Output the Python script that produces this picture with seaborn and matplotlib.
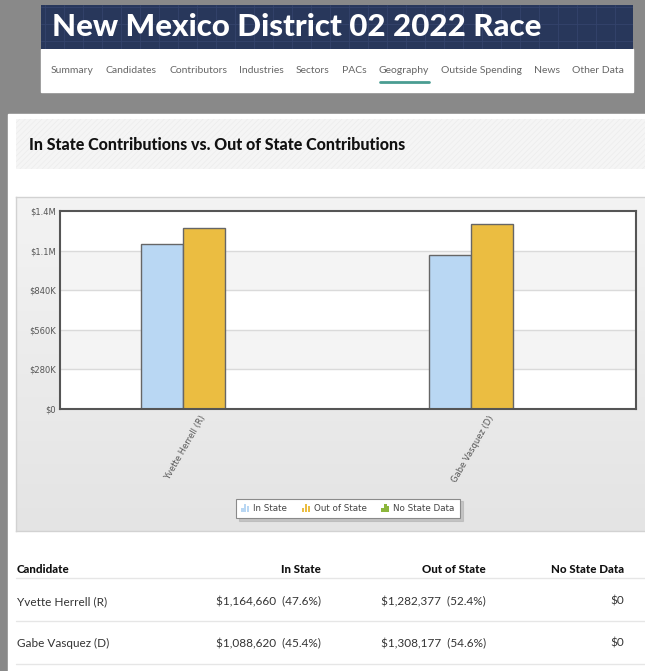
"""Screenshot recreation: NM-02 2022 race, in-state vs out-of-state contributions."""

import matplotlib

matplotlib.use("Agg")

import matplotlib.pyplot as plt
import numpy as np
import pandas as pd
import seaborn as sns
from matplotlib.colors import LinearSegmentedColormap
from matplotlib.legend_handler import HandlerBase
from matplotlib.lines import Line2D
from matplotlib.patches import Patch, Rectangle

# Data
page_title = "New Mexico District 02 2022 Race"
chart_title = "In State Contributions vs. Out of State Contributions"
nav_items = ["Summary", "Candidates", "Contributors", "Industries", "Sectors",
             "PACs", "Geography", "Outside Spending", "News", "Other Data"]
active_nav = "Geography"

candidates = ["Yvette Herrell (R)", "Gabe Vasquez (D)"]
sources = ["In State", "Out of State", "No State Data"]
in_state = [1164660, 1088620]
out_of_state = [1282377, 1308177]
no_state = [0, 0]

y_ticks = [0, 280000, 560000, 840000, 1120000, 1400000]
y_tick_labels = ["$0", "$280K", "$560K", "$840K", "$1.1M", "$1.4M"]
table_columns = ["Candidate", "In State", "Out of State", "No State Data"]

palette = {"In State": "#b9d7f3", "Out of State": "#ebbd41", "No State Data": "#8cb63c"}

sns.set_theme(style="white")
plt.rcParams.update({
    "font.family": ["DejaVu Sans"],
    "hatch.linewidth": 0.5,
})

W, H = 645, 671
fig = plt.figure(figsize=(W / 100, H / 100), dpi=100, facecolor="#898989")


def fx(x):
    return x / W


def fy(y):
    return 1 - y / H


def box(x0, y0, x1, y1):
    return [fx(x0), fy(y1), (x1 - x0) / W, (y1 - y0) / H]


def rect(x0, y0, x1, y1, **kw):
    r = Rectangle((fx(x0), fy(y1)), (x1 - x0) / W, (y1 - y0) / H,
                  transform=fig.transFigure, zorder=-5, **kw)
    fig.add_artist(r)
    return r


def fit_width(t, target):
    w = t.get_window_extent(fig.canvas.get_renderer()).width
    t.set_fontsize(t.get_fontsize() * target / w)


# --- page header ---------------------------------------------------------
ax_head = fig.add_axes(box(41, 5, 633, 49))
ax_head.set_facecolor("#28375b")
ax_head.set_xlim(0, 592)
ax_head.set_ylim(0, 44)
ax_head.set_xticks(np.arange(4, 592, 19))
ax_head.set_yticks([8, 25, 42])
ax_head.grid(True, color="#34446c", linewidth=0.6)
ax_head.tick_params(length=0, labelbottom=False, labelleft=False)
for s in ax_head.spines.values():
    s.set_visible(False)

t = fig.text(fx(52), fy(36), page_title, color="white", fontsize=22,
             fontweight="black", family="Lato", va="baseline")
fit_width(t, 489)

rect(41, 49, 633, 92, facecolor="white")
nav_texts = [fig.text(0, fy(73), n, fontsize=7.5, family="Lato", color="#666666",
                      va="baseline") for n in nav_items]
widths = [nt.get_window_extent(fig.canvas.get_renderer()).width for nt in nav_texts]
gap = (624 - 51 - sum(widths)) / (len(nav_items) - 1)
x = 51
for nt, w, name in zip(nav_texts, widths, nav_items):
    nt.set_x(fx(x))
    if name == active_nav:
        fig.add_artist(Line2D([fx(x + 1), fx(x + w)], [fy(82)] * 2, transform=fig.transFigure,
                              color="#4a9d92", lw=2, solid_capstyle="round"))
    x += w + gap

# --- white content panel -------------------------------------------------
rect(8, 114, 646, 672, facecolor="white")
rect(16, 119, 646, 169, facecolor="#f5f5f5", edgecolor="#ececec", hatch="//////", lw=0)
t = fig.text(fx(29), fy(150), chart_title, fontsize=10, fontweight="black",
             family="Lato", color="#111111", va="baseline")
fit_width(t, 376)

# chart container with soft gradient
ax_bg = fig.add_axes(box(16, 197, 660, 531))
grad = LinearSegmentedColormap.from_list("bg", ["#f3f3f3", "#e4e4e4"])
ax_bg.imshow(np.linspace(0, 1, 100).reshape(-1, 1), cmap=grad, aspect="auto",
             extent=[0, 1, 0, 1], origin="upper")
ax_bg.set_xticks([])
ax_bg.set_yticks([])
for s in ax_bg.spines.values():
    s.set_color("#d2d2d2")
    s.set_linewidth(1)

# --- bar chart -------------------------------------------------------------
df = pd.DataFrame({
    "candidate": candidates * 3,
    "source": np.repeat(sources, len(candidates)),
    "amount": in_state + out_of_state + no_state,
})

ax = fig.add_axes(box(60, 211, 636, 409))
ax.set_facecolor("white")
for lo, hi in zip(y_ticks[1::2], y_ticks[2::2]):
    ax.axhspan(lo, hi, color="#f4f4f4", zorder=0, lw=0)
for yv in y_ticks[1:-1]:
    ax.axhline(yv, color="#dadada", lw=1, zorder=0.5)

sns.barplot(data=df, x="candidate", y="amount", hue="source", order=candidates,
            hue_order=sources, palette=palette, saturation=1, width=0.438, gap=0,
            edgecolor="#666666", linewidth=1, errorbar=None, legend=False, ax=ax,
            zorder=2)

ax.set_ylim(y_ticks[0], y_ticks[-1])
ax.set_xlim(-0.5, len(candidates) - 0.5)
ax.set_yticks(y_ticks)
ax.set_yticklabels(y_tick_labels)
ax.set_xticks(range(len(candidates)))
ax.set_xticklabels(candidates, rotation=60, ha="right", va="center",
                   rotation_mode="anchor")
ax.set_xlabel("")
ax.set_ylabel("")
ax.tick_params(axis="y", length=0, pad=3, labelsize=6, labelcolor="#555555")
ax.tick_params(axis="x", length=0, pad=5, labelsize=6, labelcolor="#555555")
for s in ax.spines.values():
    s.set_visible(True)
    s.set_color("#555555")
    s.set_linewidth(1.5)


class BarIcon(HandlerBase):
    """Tiny three-bar glyph like the original legend icons."""

    def create_artists(self, legend, orig_handle, xdescent, ydescent,
                       width, height, fontsize, trans):
        c = orig_handle.get_facecolor()
        bw = width / 3.6
        arts = []
        for i, h in enumerate([0.55, 1.0, 0.7]):
            arts.append(Rectangle((-xdescent + i * bw * 1.3, -ydescent), bw, height * h,
                                  facecolor=c, edgecolor="none", transform=trans))
        return arts


handles = [Patch(facecolor=palette[s], label=s) for s in sources]
leg = fig.legend(handles=handles, loc="center", bbox_to_anchor=(fx(348), fy(508.5)),
                 ncol=3, fontsize=6.3, frameon=True, fancybox=False,
                 edgecolor="#8a8a8a", facecolor="white", framealpha=1,
                 handler_map={Patch: BarIcon()}, handlelength=0.9, handleheight=1.1,
                 handletextpad=0.45, columnspacing=1.7, borderpad=0.6,
                 shadow={"color": "#b0b0b0", "alpha": 0.6})
leg.get_frame().set_linewidth(0.8)
for txt in leg.get_texts():
    txt.set_color("#444444")

# --- summary table ---------------------------------------------------------
col_right = [321, 486, 624]
fig.text(fx(17), fy(573), table_columns[0], fontsize=8.3, fontweight="black",
         family="Lato", color="#111111", va="baseline")
for name, xr in zip(table_columns[1:], col_right):
    fig.text(fx(xr), fy(573), name, fontsize=8.3, fontweight="black", family="Lato",
             color="#111111", va="baseline", ha="right")

for yl in [578, 621, 664]:
    fig.add_artist(Line2D([fx(16), fx(646)], [fy(yl)] * 2, transform=fig.transFigure,
                          color="#e6e6e6", lw=1))

for i, cand in enumerate(candidates):
    total = in_state[i] + out_of_state[i] + no_state[i]
    yb = fy(605 + 42 * i)
    cells = [
        f"${in_state[i]:,}  ({in_state[i] / total * 100:.1f}%)",
        f"${out_of_state[i]:,}  ({out_of_state[i] / total * 100:.1f}%)",
        f"${no_state[i]:,}",
    ]
    fig.text(fx(17), yb, cand, fontsize=8.5, family="Lato", color="#333333", va="baseline")
    for val, xr in zip(cells, col_right):
        fig.text(fx(xr), yb, val, fontsize=8.5, family="Lato", color="#333333",
                 va="baseline", ha="right")

fig.savefig("out.png", dpi=100, facecolor=fig.get_facecolor())
plt.close(fig)
